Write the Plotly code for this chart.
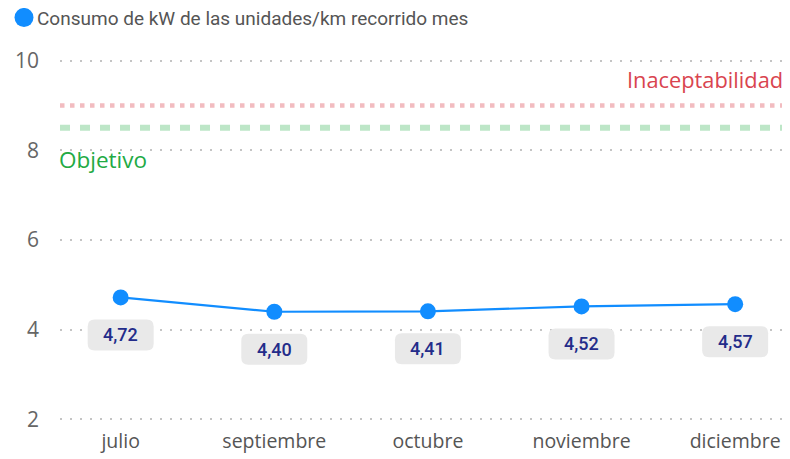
import plotly.graph_objects as go

months = ["julio", "septiembre", "octubre", "noviembre", "diciembre"]
consumo = [4.72, 4.40, 4.41, 4.52, 4.57]
objetivo = 8.5
inaceptabilidad = 9.0
y_ticks = [2, 4, 6, 8, 10]
y_min, y_max = 2, 10
series_name = "Consumo de kW de las unidades/km recorrido mes"

# page body has an 8px default margin -> figure is 8px smaller
W, H = 782, 451
PAD = 0.035                      # tiny range padding so edge gridlines show
UNIT = 358 / (y_max - y_min)     # px per y unit
ML, MR = 52, 0
MT = 53 - PAD * UNIT
MB = 40 - PAD * UNIT
PW = W - ML - MR
PH = H - MT - MB


def px_x(fx):
    return (fx - ML) / PW


def px_y(fy):
    return (H - MB - fy) / PH


fig = go.Figure()

fig.add_trace(go.Scatter(
    x=list(range(len(months))), y=consumo, mode="lines+markers",
    name=series_name,
    line=dict(color="#118DFF", width=2.2),
    marker=dict(color="#118DFF", size=16),
    showlegend=False, hoverinfo="skip"))

shapes = []
annotations = []

# reference lines
shapes.append(dict(type="line", xref="paper", yref="y", x0=0, x1=1,
                   y0=inaceptabilidad, y1=inaceptabilidad, layer="below",
                   line=dict(color="#F2BCC0", width=4.5, dash="4.5px,5.5px")))
shapes.append(dict(type="line", xref="paper", yref="y", x0=0, x1=1,
                   y0=objetivo, y1=objetivo, layer="below",
                   line=dict(color="#BDE6C7", width=6, dash="10px,10px")))

annotations.append(dict(text="Inaceptabilidad", xref="paper", yref="y", x=1,
                        y=inaceptabilidad, xanchor="right", yanchor="bottom",
                        xshift=-5, yshift=9, showarrow=False,
                        font=dict(family="Open Sans", size=21.8, color="#D9444F")))
annotations.append(dict(text="Objetivo", xref="paper", yref="y", x=0,
                        y=objetivo, xanchor="left", yanchor="top",
                        xshift=-3, yshift=-14, showarrow=False,
                        font=dict(family="Open Sans", size=22.5, color="#22AA44")))

# data labels with rounded boxes
bw, bt, bb, r = 33, -22, -53, 7
path = (f"M {-bw+r},{bt} L {bw-r},{bt} Q {bw},{bt} {bw},{bt-r} "
        f"L {bw},{bb+r} Q {bw},{bb} {bw-r},{bb} L {-bw+r},{bb} "
        f"Q {-bw},{bb} {-bw},{bb+r} L {-bw},{bt-r} Q {-bw},{bt} {-bw+r},{bt} Z")
for i, v in enumerate(consumo):
    shapes.append(dict(type="path", xref="x", yref="y", xsizemode="pixel",
                       ysizemode="pixel", xanchor=i, yanchor=v, path=path,
                       fillcolor="#E9E9E9", line=dict(width=0), layer="above"))
    annotations.append(dict(text=f"{v:.2f}".replace(".", ","), xref="x",
                            yref="y", x=i, y=v, yshift=-37.5, showarrow=False,
                            xanchor="center", yanchor="middle",
                            font=dict(family="Roboto", size=18, weight=500,
                                      color="#232C8A")))

# legend (manual: circle + text)
shapes.append(dict(type="circle", xref="paper", yref="paper",
                   xsizemode="pixel", ysizemode="pixel",
                   xanchor=px_x(16), yanchor=px_y(10),
                   x0=-9.5, x1=9.5, y0=-9.5, y1=9.5,
                   fillcolor="#118DFF", line=dict(width=0)))
annotations.append(dict(text=series_name, xref="paper", yref="paper",
                        x=px_x(28), y=px_y(11.5), xanchor="left",
                        yanchor="middle", showarrow=False, borderpad=0,
                        font=dict(family="Roboto", size=19, color="#555555")))

fig.update_layout(
    width=W, height=H,
    margin=dict(l=ML, r=MR, t=MT, b=MB, autoexpand=False),
    paper_bgcolor="white", plot_bgcolor="white",
    shapes=shapes, annotations=annotations,
    showlegend=False,
    xaxis=dict(tickmode="array", tickvals=list(range(len(months))),
               ticktext=months, range=[-0.395, 4.357], showgrid=False,
               zeroline=False, showline=False, ticks="", ticklabelstandoff=6,
               tickfont=dict(family="Open Sans", size=19.5, color="#555555")),
    yaxis=dict(range=[y_min - PAD, y_max + PAD], tickvals=y_ticks,
               showgrid=True, gridcolor="#C4C4C4", gridwidth=1.5,
               griddash="2px,8px", zeroline=False, showline=False, ticks="",
               ticklabelstandoff=20,
               tickfont=dict(family="Open Sans", size=21, color="#666666")),
)

fig.write_html("out.html")
